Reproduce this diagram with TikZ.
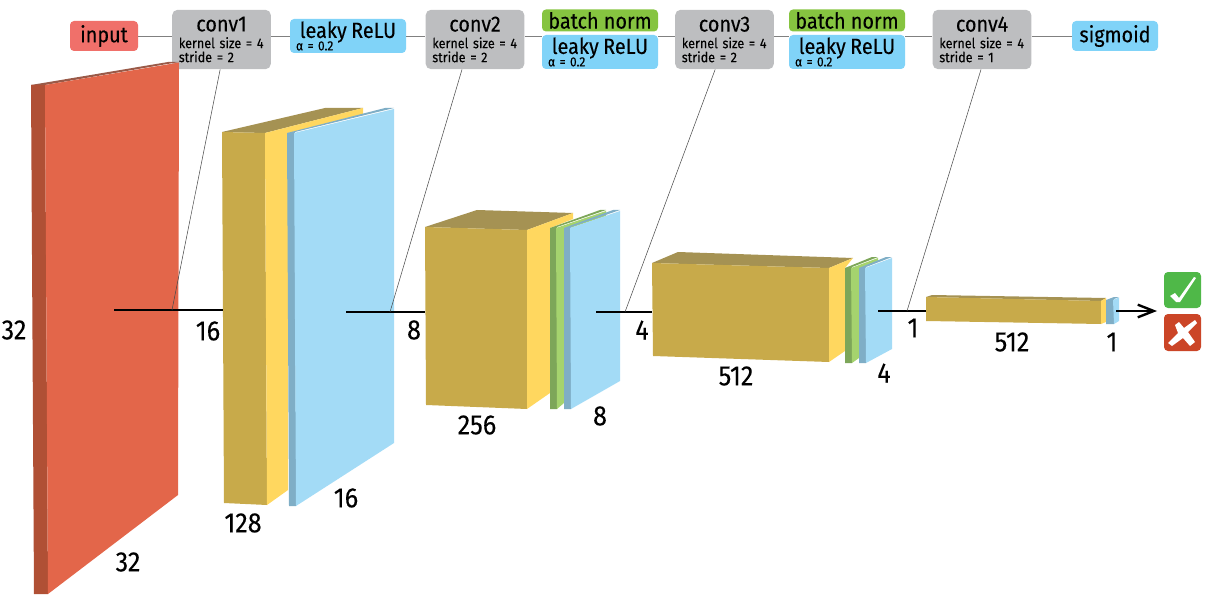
\documentclass[tikz,border=0pt]{standalone}
\usepackage{fontspec}
\setmainfont[FakeStretch=0.9,FakeBold=0.15]{Fira Sans}
\usepackage{xcolor}
\usetikzlibrary{arrows.meta,positioning}
\definecolor{redfront}{HTML}{E3664A}
\definecolor{redside}{HTML}{B05035}
\definecolor{redtop}{HTML}{9A5A48}
\definecolor{convfront}{HTML}{C8AA4A}
\definecolor{convside}{HTML}{FFD75F}
\definecolor{convtop}{HTML}{A59253}
\definecolor{relufront}{HTML}{A3DBF6}
\definecolor{reluside}{HTML}{7FAEC6}
\definecolor{normfront}{HTML}{A5D36E}
\definecolor{normside}{HTML}{7DA659}
\definecolor{inputfill}{HTML}{F0706A}
\definecolor{convfill}{HTML}{BDBEC0}
\definecolor{relufill}{HTML}{80D3F8}
\definecolor{normfill}{HTML}{86C440}
\definecolor{yesfill}{HTML}{4FB848}
\definecolor{nofill}{HTML}{CB4527}
\newcommand{\tagname}[1]{\makebox[\linewidth]{\fontsize{16.5}{14}\selectfont #1}}
\begin{document}
\begin{tikzpicture}[
  x=.75pt, y=-.75pt,
  >={Straight Barb[length=12pt,width=9.5pt]},
  tag/.style={rounded corners=3pt, inner sep=0pt, align=center, font=\fontsize{16.5}{14}\selectfont},
  convbox/.style={tag, rounded corners=4pt, fill=convfill, minimum width=74pt, minimum height=44.5pt,
    text width=64pt, align=left, font=\fontsize{10.5}{10.5}\selectfont},
  relubox/.style={tag, fill=relufill, minimum width=87pt, minimum height=25.5pt,
    text width=78pt, align=left, font=\fontsize{10}{9.75}\selectfont},
  normbox/.style={tag, fill=normfill, minimum width=87pt, minimum height=16.5pt},
  endbox/.style={tag, minimum height=22.5pt},
  size/.style={font=\fontsize{21}{22}\selectfont, inner sep=0pt},
  feed/.style={black, line width=1.8pt},
  conn/.style={gray, line width=.6pt},
  pointer/.style={black!70, line width=.4pt}
]
\useasboundingbox (0,0) rectangle (1207,599);

% layer tags
\node[tag, endbox, fill=inputfill, minimum width=51pt] (input) at (104,36) {input};
\node[convbox] (conv1) at (221.5,39.5) {\tagname{conv1}\\[2pt]kernel size = 4\\stride = 2};
\node[relubox] (leaky1) at (348,36) {\tagname{leaky ReLU}\\[-2pt]α = 0.2};
\node[convbox] (conv2) at (475,39.5) {\tagname{conv2}\\[2pt]kernel size = 4\\stride = 2};
\node[relubox] (leaky2) at (600,52) {\tagname{leaky ReLU}\\[-2pt]α = 0.2};
\node[normbox, above=2.25pt of leaky2] (norm2) {batch norm};
\node[convbox] (conv3) at (724.5,39.5) {\tagname{conv3}\\[2pt]kernel size = 4\\stride = 2};
\node[relubox] (leaky3) at (847,52) {\tagname{leaky ReLU}\\[-2pt]α = 0.2};
\node[normbox, above=2.25pt of leaky3] (norm3) {batch norm};
\node[convbox] (conv4) at (982,39.5) {\tagname{conv4}\\[2pt]kernel size = 4\\stride = 1};
\node[tag, endbox, fill=relufill, minimum width=64.5pt] (sigmoid) at (1115,36) {sigmoid};
\draw[conn] (input.east) -- (conv1.west |- input);
\draw[conn] (conv1.east |- input) -- (leaky1.west);
\draw[conn] (leaky1.east) -- (conv2.west |- input);
\draw[conn] (conv2.east |- input) -- (leaky2.west |- input);
\draw[conn] (leaky2.east |- input) -- (conv3.west |- input);
\draw[conn] (conv3.east |- input) -- (leaky3.west |- input);
\draw[conn] (leaky3.east |- input) -- (conv4.west |- input);
\draw[conn] (conv4.east |- input) -- (sigmoid.west);

% input volume
\fill[redtop] (31,85) -- (168,62) -- (179,62) -- (45,85) -- cycle;
\fill[redside] (31,85) -- (45,85) -- (48,594) -- (34,594) -- cycle;
\fill[redfront] (45,85) -- (179,62.5) -- (178,495) -- (48,594) -- cycle;

% conv1
\fill[convtop] (222,132) -- (325,108) -- (363,108) -- (265,133) -- cycle;
\fill[convfront] (222,132) -- (265,133) -- (267,505) -- (224,503) -- cycle;
\fill[convside] (265,133) -- (363,108) -- (363,114) -- (288,133) -- (288,490) -- (267,505) -- cycle;
\fill[reluside] (287,133) -- (385,108) -- (394,108) -- (295,132) -- (296,506) -- (289,506) -- cycle;
\fill[relufront] (294,133) -- (394,109) -- (394,443) -- (296,506) -- cycle;

% conv2
\fill[convtop] (425,227) -- (477,210) -- (573,213) -- (527,230) -- cycle;
\fill[convfront] (425,227) -- (527,230) -- (527,409) -- (426,405) -- cycle;
\fill[convside] (527,230) -- (573,213) -- (573,219) -- (550,228) -- (550,393) -- (527,409) -- cycle;
\fill[normside] (550,228) -- (600,210) -- (606,210) -- (557,227) -- (557,409) -- (550,409) -- cycle;
\fill[normfront] (556,228) -- (606,211) -- (606,216) -- (564,230) -- (564,403) -- (557,409) -- cycle;
\fill[reluside] (564,228) -- (613,210) -- (620,210) -- (571,227) -- (571,409) -- (564,409) -- cycle;
\fill[relufront] (570,228) -- (620,211) -- (620,381) -- (571,409) -- cycle;

% conv3
\fill[convtop] (652,263) -- (678,252) -- (853,258) -- (829,268) -- cycle;
\fill[convfront] (652,263) -- (829,268) -- (829,362) -- (653,356) -- cycle;
\fill[convside] (829,268) -- (853,258) -- (845,268) -- (845,351) -- (829,362) -- cycle;
\fill[normside] (845,268) -- (872,257) -- (878,257) -- (852,267) -- (852,363) -- (845,363) -- cycle;
\fill[normfront] (851,268) -- (878,258) -- (878,261) -- (859,269) -- (859,358) -- (852,363) -- cycle;
\fill[reluside] (859,268) -- (886,257) -- (892,257) -- (866,267) -- (866,363) -- (859,363) -- cycle;
\fill[relufront] (865,268) -- (892,258) -- (892,349) -- (866,363) -- cycle;

% conv4
\fill[convtop] (926,297) -- (932,295) -- (1106,298) -- (1101,301) -- cycle;
\fill[convfront] (926,297) -- (1101,301) -- (1101,324) -- (926,321) -- cycle;
\fill[convside] (1101,301) -- (1106,298) -- (1106,322) -- (1101,324) -- cycle;
\fill[reluside] (1106,300) -- (1114,297) -- (1119,297) -- (1114,299) -- (1114,324) -- (1106,324) -- cycle;
\fill[relufront] (1113,300) -- (1119,297.5) -- (1119,321) -- (1114,324) -- cycle;

% feeds between the layers
\coordinate (feed1a) at (114,310);
\coordinate (feed1b) at (223,310);
\coordinate (feed2a) at (346,312);
\coordinate (feed2b) at (425,312);
\coordinate (feed3a) at (596,312);
\coordinate (feed3b) at (652,312);
\coordinate (feed4a) at (878,311);
\coordinate (feed4b) at (926,311);
\coordinate (feed5a) at (1116,311);
\coordinate (feed5b) at (1157,311);
\draw[feed] (feed1a) -- (feed1b);
\draw[feed] (feed2a) -- (feed2b);
\draw[feed] (feed3a) -- (feed3b);
\draw[feed] (feed4a) -- (feed4b);
\draw[feed, ->] (feed5a) -- (feed5b);

% conv tags down to their feeds
\coordinate (drop1a) at ([xshift=-1pt]conv1.south);
\coordinate (drop1b) at (172,310);
\coordinate (drop2a) at ([xshift=-9.75pt]conv2.south);
\coordinate (drop2b) at (390,312);
\coordinate (drop3a) at ([xshift=-7pt]conv3.south);
\coordinate (drop3b) at (625,312);
\coordinate (drop4a) at ([xshift=-.75pt]conv4.south);
\coordinate (drop4b) at (907,311);
\draw[pointer] (drop1a) -- (drop1b);
\draw[pointer] (drop2a) -- (drop2b);
\draw[pointer] (drop3a) -- (drop3b);
\draw[pointer] (drop4a) -- (drop4b);

% sizes
\node[size] (s32a) at (14,330) {32};
\node[size] (s32b) at (128,562) {32};
\node[size] (s16a) at (208,331) {16};
\node[size] (s128) at (243,523) {128};
\node[size] (s16b) at (346,498) {16};
\node[size] (s8a) at (414,330) {8};
\node[size] (s256) at (477,425) {256};
\node[size] (s8b) at (600,416) {8};
\node[size] (s4a) at (642,330) {4};
\node[size] (s512a) at (736,376) {512};
\node[size] (s4b) at (884,373) {4};
\node[size] (s1a) at (913,328) {1};
\node[size] (s512b) at (1012,342) {512};
\node[size] (s1b) at (1112,342) {1};

% verdict
\node[fill=yesfill, rounded corners=3pt, minimum width=27.75pt, minimum height=27pt, inner sep=0pt] (yes) at (1182.5,290) {};
\node[fill=nofill, rounded corners=3pt, minimum width=27.75pt, minimum height=27.75pt, inner sep=0pt] (no) at (1182.5,332.5) {};
\fill[white] (1170,296) -- (1175,293) -- (1179,298) -- (1194,277) -- (1196,278) -- (1180,302) -- (1176,302) -- cycle;
\fill[white] (1175,325) -- (1179,322) -- (1184,328) -- (1195,320) -- (1197,323) -- (1188,332) -- (1195,342) -- (1190,346) -- (1183,338) -- (1172,346) -- (1168,343) -- (1178,333) -- cycle;
\end{tikzpicture}
\end{document}
